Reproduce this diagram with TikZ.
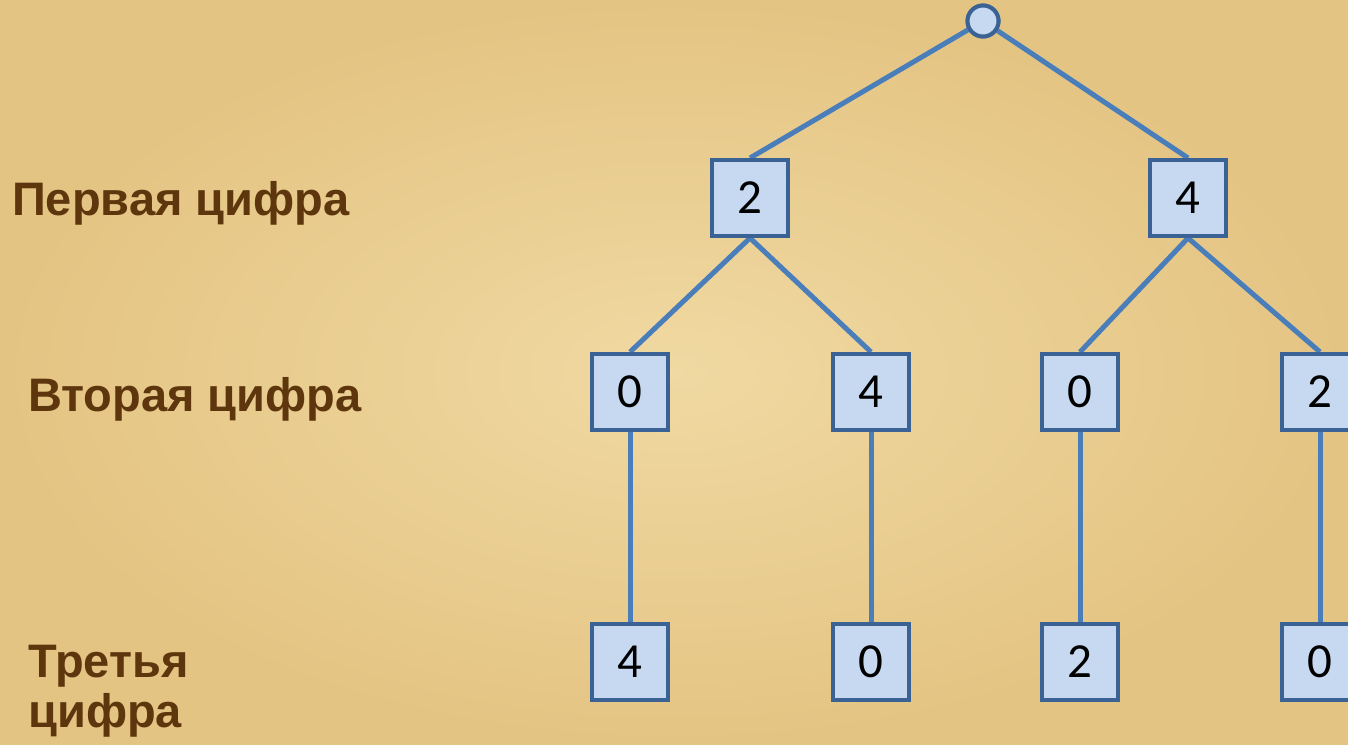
\documentclass[tikz,border=0pt]{standalone}
\usepackage{fontspec}
\setmainfont{Liberation Sans}
\newfontfamily\digitfont{Carlito}
\definecolor{bgA}{HTML}{E4C483}
\definecolor{bgB}{HTML}{F0D9A2}
\definecolor{edgeblue}{HTML}{4A7EBB}
\definecolor{boxborder}{HTML}{3B6294}
\definecolor{boxfill}{HTML}{C6D9F1}
\definecolor{labelbrown}{HTML}{5E360D}
\begin{document}
\begin{tikzpicture}[x=1pt,y=-1pt,
  digbox/.style={draw=boxborder,fill=boxfill,line width=4pt,minimum width=76pt,minimum height=76pt,inner sep=0pt,font=\digitfont\fontsize{49}{49}\selectfont,text=black},
  rootnode/.style={circle,draw=boxborder,fill=boxfill,line width=4pt,minimum size=31pt,inner sep=0pt},
  edge/.style={draw=edgeblue,line width=5pt},
  lvl/.style={font=\bfseries\fontsize{47}{50}\selectfont,text=labelbrown,anchor=base west,inner sep=0pt,align=left}]
\useasboundingbox (0,0) rectangle (1348,744);
\shade[inner color=bgB,outer color=bgA] (0,0) rectangle (1348,744);
% nodes
\node[rootnode] (r) at (983,21) {};
\node[digbox] (a) at (750,198) {2};
\node[digbox] (b) at (1188,198) {4};
\node[digbox] (aa) at (630,392) {0};
\node[digbox] (ab) at (871,392) {4};
\node[digbox] (ba) at (1080,392) {0};
\node[digbox] (bb) at (1320,392) {2};
\node[digbox] (aaa) at (630,662) {4};
\node[digbox] (aba) at (871,662) {0};
\node[digbox] (baa) at (1080,662) {2};
\node[digbox] (bba) at (1320,662) {0};
% edges
\path[edge] (r) -- (a.north);
\path[edge] (r) -- (b.north);
\path[edge] (a.south) -- (aa.north);
\path[edge] (a.south) -- (ab.north);
\path[edge] (b.south) -- (ba.north);
\path[edge] (b.south) -- (bb.north);
\path[edge] (aa.south) -- (aaa.north);
\path[edge] (ab.south) -- (aba.north);
\path[edge] (ba.south) -- (baa.north);
\path[edge] (bb.south) -- (bba.north);
% redraw nodes on top of the edges
\node[rootnode] at (r) {};
\node[digbox] at (a) {2};
\node[digbox] at (b) {4};
\node[digbox] at (aa) {0};
\node[digbox] at (ab) {4};
\node[digbox] at (ba) {0};
\node[digbox] at (bb) {2};
\node[digbox] at (aaa) {4};
\node[digbox] at (aba) {0};
\node[digbox] at (baa) {2};
\node[digbox] at (bba) {0};
% labels
\node[lvl] (l1) at (12,215) {Первая цифра};
\node[lvl] (l2) at (28,411) {Вторая цифра};
\node[lvl] (l3) at (28,727) {Третья\\цифра};
\end{tikzpicture}
\end{document}
